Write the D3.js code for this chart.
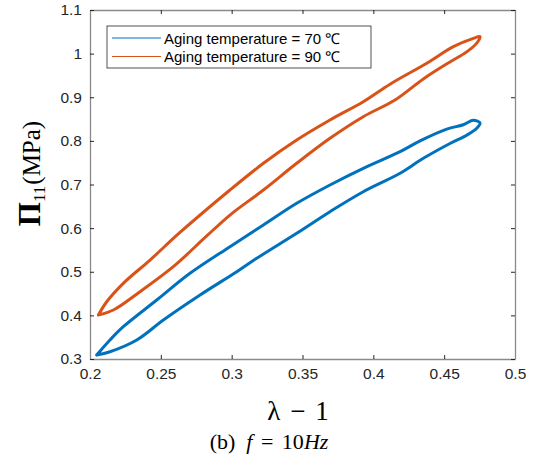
<!DOCTYPE html>
<html>
<head>
<meta charset="utf-8">
<script src="https://cdn.jsdelivr.net/npm/d3@7"></script>
<style>
  html, body { margin: 0; padding: 0; background: #fff; }
  svg { display: block; }
</style>
</head>
<body>
<svg id="chart" width="536" height="459"></svg>
<script>
// Hysteresis loops: stretch (lambda - 1) vs. nominal stress Pi_11 (MPa).
// Each loop runs from the lower-left tip along the loading branch to the
// upper-right tip, then back along the unloading branch.
const seriesNames = ["Aging temperature = 70 \u2103", "Aging temperature = 90 \u2103"];
const seriesColors = ["#0072BD", "#D95319"];

const strain70 = [0.2047, 0.2141, 0.2235, 0.2471, 0.2706, 0.2988, 0.3224, 0.3459, 0.3694, 0.3929,
  0.4189, 0.433, 0.4518, 0.4635, 0.4706, 0.4753,
  0.473, 0.4659, 0.4541, 0.4353, 0.4189, 0.3929, 0.3694, 0.3459, 0.3177, 0.3036,
  0.2777, 0.2518, 0.233, 0.2141, 0.2047];
const stress70 = [0.309, 0.3436, 0.374, 0.4352, 0.4964, 0.5574, 0.6072, 0.6569, 0.6989, 0.7371,
  0.7752, 0.800, 0.827, 0.837, 0.847, 0.841,
  0.829, 0.813, 0.794, 0.760, 0.7257, 0.6835, 0.6377, 0.5881, 0.5308, 0.5001,
  0.4467, 0.3894, 0.3436, 0.3167, 0.309];

const strain90 = [0.2059, 0.2118, 0.2235, 0.2424, 0.2635, 0.2988, 0.3224, 0.3459, 0.3694, 0.3929,
  0.4118, 0.4377, 0.4565, 0.4706, 0.4753,
  0.473, 0.4659, 0.4541, 0.4353, 0.4153, 0.3929, 0.3694, 0.3459, 0.3224, 0.2988,
  0.2824, 0.2588, 0.2353, 0.2165, 0.2059];
const stress90 = [0.4009, 0.4313, 0.4735, 0.5269, 0.590, 0.6874, 0.7486, 0.802, 0.8479, 0.8898,
  0.930, 0.978, 1.016, 1.035, 1.039,
  1.024, 1.004, 0.981, 0.942, 0.8937, 0.8554, 0.8059, 0.7486, 0.6874, 0.630,
  0.582, 0.5116, 0.4543, 0.4123, 0.4009];

const xTicks = [0.2, 0.25, 0.3, 0.35, 0.4, 0.45, 0.5];
const yTicks = [0.3, 0.4, 0.5, 0.6, 0.7, 0.8, 0.9, 1, 1.1];

const svg = d3.select("#chart");
const margin = { left: 90, right: 21, top: 10, bottom: 100 };
const W = 536, H = 459;
const x = d3.scaleLinear().domain([0.2, 0.5]).range([margin.left, W - margin.right]);
const y = d3.scaleLinear().domain([0.3, 1.1]).range([H - margin.bottom, margin.top]);

const tickFont = "'Liberation Sans', Arial, sans-serif";
const serif = "'Liberation Serif', 'Times New Roman', serif";
const fmt = d => String(+d.toFixed(2));

// Data loops
const line = d3.line().x(d => x(d[0])).y(d => y(d[1])).curve(d3.curveCatmullRom.alpha(0.5));
const loops = [
  d3.zip(strain70, stress70),
  d3.zip(strain90, stress90)
];
svg.append("g").selectAll("path").data(loops).join("path")
  .attr("d", line)
  .attr("fill", "none")
  .attr("stroke", (d, i) => seriesColors[i])
  .attr("stroke-width", 3)
  .attr("stroke-linejoin", "round")
  .attr("stroke-linecap", "round");

// Axes (box with inward ticks on all four sides)
function styleAxis(g) {
  g.select(".domain").attr("stroke", "#8a8a8a").attr("stroke-width", 1.3);
  g.selectAll(".tick line").attr("stroke", "#262626").attr("stroke-width", 1);
  g.selectAll(".tick text").attr("fill", "#262626")
    .attr("font-family", tickFont).attr("font-size", 15.5);
}
const y0 = H - margin.bottom, x0 = margin.left, x1 = W - margin.right, y1 = margin.top;

svg.append("g").attr("transform", `translate(0,${y0})`)
  .call(d3.axisBottom(x).tickValues(xTicks).tickFormat(fmt).tickSizeInner(-4).tickSizeOuter(0).tickPadding(9))
  .call(styleAxis);
svg.append("g").attr("transform", `translate(0,${y1})`)
  .call(d3.axisTop(x).tickValues(xTicks).tickFormat("").tickSizeInner(-4).tickSizeOuter(0))
  .call(styleAxis);
svg.append("g").attr("transform", `translate(${x0},0)`)
  .call(d3.axisLeft(y).tickValues(yTicks).tickFormat(fmt).tickSizeInner(-4).tickSizeOuter(0).tickPadding(8))
  .call(styleAxis);
svg.append("g").attr("transform", `translate(${x1},0)`)
  .call(d3.axisRight(y).tickValues(yTicks).tickFormat("").tickSizeInner(-4).tickSizeOuter(0))
  .call(styleAxis);

// Legend
const lg = svg.append("g").attr("transform", "translate(107,26)");
lg.append("rect").attr("width", 264).attr("height", 42)
  .attr("fill", "#fff").attr("stroke", "#262626").attr("stroke-width", 0.8);
seriesNames.forEach((name, i) => {
  const cy = 12 + i * 18.5;
  lg.append("line").attr("x1", 5).attr("x2", 54).attr("y1", cy).attr("y2", cy)
    .attr("stroke", seriesColors[i]).attr("stroke-width", 1);
  lg.append("text").attr("x", 57).attr("y", cy + 5.5)
    .attr("font-family", tickFont).attr("font-size", 15).attr("fill", "#000")
    .text(name);
});

// X axis title
svg.append("text")
  .attr("x", 298).attr("y", 420)
  .attr("text-anchor", "middle")
  .attr("font-family", serif).attr("font-size", 27).attr("fill", "#000")
  .attr("word-spacing", 3)
  .text("\u03BB \u2212 1");

// Y axis title
const yt = svg.append("text")
  .attr("transform", `translate(40,${(y0 + y1) / 2 - 11}) rotate(-90)`)
  .attr("text-anchor", "middle")
  .attr("font-family", serif).attr("fill", "#000");
yt.append("tspan").attr("font-size", 31).attr("font-weight", "bold").text("\u03A0");
yt.append("tspan").attr("font-size", 17).attr("dy", 5).text("11");
yt.append("tspan").attr("font-size", 25).attr("dy", -5).attr("dx", 1).text("(MPa)");

// Caption
const cap = svg.append("text")
  .attr("x", 269).attr("y", 449)
  .attr("text-anchor", "middle")
  .attr("font-family", serif).attr("font-size", 22).attr("fill", "#000")
  .attr("word-spacing", 3);
cap.append("tspan").text("(b)\u2002");
cap.append("tspan").attr("font-style", "italic").text("f");
cap.append("tspan").text(" = 10");
cap.append("tspan").attr("font-style", "italic").text("Hz");
</script>
</body>
</html>
